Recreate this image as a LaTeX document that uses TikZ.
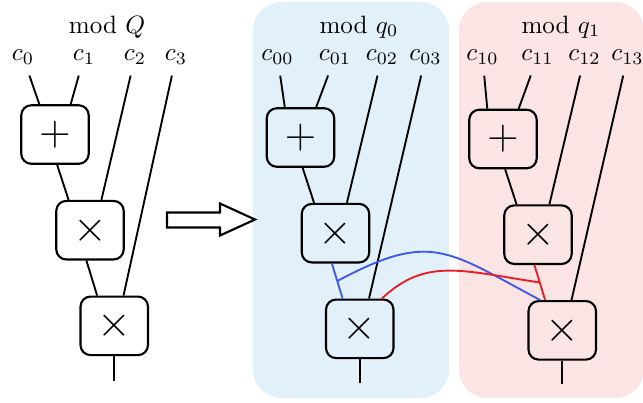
\documentclass[tikz,border=0pt]{standalone}
\usetikzlibrary{positioning}
\definecolor{panelblue}{RGB}{226,240,250}
\definecolor{panelred}{RGB}{250,228,228}
\definecolor{wireblue}{RGB}{64,90,232}
\definecolor{wirered}{RGB}{232,30,40}
\tikzset{op/.style={draw, line width=0.85pt, rounded corners=4pt, minimum width=0.945cm, minimum height=0.82cm, inner sep=0pt, font=\LARGE},
  wire/.style={line width=0.75pt},
  lbl/.style={anchor=base},
  panel/.style={rounded corners=0.4cm}}

\begin{document}
\begin{tikzpicture}[x=0.014cm, y=-0.014cm]
    \useasboundingbox (0,0) rectangle (643,402);
    \fill[panelblue, panel] (253,2) rectangle (449,398);
    \fill[panelred, panel] (459,2) rectangle (644,398);

    % mod Q
    \node[lbl] (mQ) at (107,33) {mod $Q$};
    \node[lbl] (c0) at (23,60.5) {$c_0$};
    \node[lbl] (c1) at (84,60.5) {$c_1$};
    \node[lbl] (c2) at (135,60.5) {$c_2$};
    \node[lbl] (c3) at (176,60.5) {$c_3$};
    \node[op] (pQ) at (55,134.5) {$+$};
    \node[op, on grid, below right=1.34cm and 0.49cm of pQ] (xQ) {$\times$};
    \node[op, on grid, below right=1.34cm and 0.34cm of xQ] (yQ) {$\times$};
    \coordinate[below=0.35cm of yQ] (oQ);
    \draw[wire, shorten <=1pt] (c0) -- ([xshift=-0.22cm]pQ.north);
    \draw[wire, shorten <=1pt] (c1) -- ([xshift=0.22cm]pQ.north);
    \draw[wire, shorten <=1pt] (c2) -- ([xshift=0.16cm]xQ.north);
    \draw[wire, shorten <=1pt] (c3) -- ([xshift=0.13cm]yQ.north);
    \draw[wire] ([xshift=0.03cm]pQ.south) -- ([xshift=-0.3cm]xQ.north);
    \draw[wire] ([xshift=-0.05cm]xQ.south) -- ([xshift=-0.24cm]yQ.north);
    \draw[wire] (yQ) -- (oQ);

    % arrow
    \draw[line width=0.85pt] (167,212.5) -- (220,212.5) -- (220,203.5) -- (255,219.5)
      -- (220,235.5) -- (220,227.5) -- (167,227.5) -- cycle;

    % mod q_0
    \node[lbl] (m0) at (359,33) {mod $q_0$};
    \node[lbl] (c00) at (277.5,60.5) {$c_{00}$};
    \node[lbl] (c01) at (335,60.5) {$c_{01}$};
    \node[lbl] (c02) at (382,60.5) {$c_{02}$};
    \node[lbl] (c03) at (425.5,60.5) {$c_{03}$};
    \node[op] (p0) at (300.5,137.5) {$+$};
    \node[op, on grid, below right=1.34cm and 0.49cm of p0] (x0) {$\times$};
    \node[op, on grid, below right=1.34cm and 0.34cm of x0] (y0) {$\times$};
    \coordinate[below=0.33cm of y0] (o0);
    \draw[wire, shorten <=1pt] (c00) -- ([xshift=-0.22cm]p0.north);
    \draw[wire, shorten <=1pt] (c01) -- ([xshift=0.22cm]p0.north);
    \draw[wire, shorten <=1pt] (c02) -- ([xshift=0.16cm]x0.north);
    \draw[wire, shorten <=1pt] (c03) -- ([xshift=0.13cm]y0.north);
    \draw[wire] ([xshift=0.03cm]p0.south) -- ([xshift=-0.3cm]x0.north);
    \draw[wire, wireblue] ([xshift=-0.05cm]x0.south) -- coordinate[midway] (b0) ([xshift=-0.24cm]y0.north);
    \draw[wire] (y0) -- (o0);

    % mod q_1
    \node[lbl] (m1) at (561,33) {mod $q_1$};
    \node[lbl] (c10) at (482.5,60.5) {$c_{10}$};
    \node[lbl] (c11) at (537.5,60.5) {$c_{11}$};
    \node[lbl] (c12) at (584.5,60.5) {$c_{12}$};
    \node[lbl] (c13) at (627.5,60.5) {$c_{13}$};
    \node[op] (p1) at (503,139) {$+$};
    \node[op, on grid, below right=1.34cm and 0.49cm of p1] (x1) {$\times$};
    \node[op, on grid, below right=1.34cm and 0.34cm of x1] (y1) {$\times$};
    \coordinate[below=0.32cm of y1] (o1);
    \draw[wire, shorten <=1pt] (c10) -- ([xshift=-0.22cm]p1.north);
    \draw[wire, shorten <=1pt] (c11) -- ([xshift=0.22cm]p1.north);
    \draw[wire, shorten <=1pt] (c12) -- ([xshift=0.16cm]x1.north);
    \draw[wire, shorten <=1pt] (c13) -- ([xshift=0.13cm]y1.north);
    \draw[wire] ([xshift=0.03cm]p1.south) -- ([xshift=-0.3cm]x1.north);
    \draw[wire, wirered] ([xshift=-0.05cm]x1.south) -- coordinate[midway] (b1) ([xshift=-0.24cm]y1.north);
    \draw[wire] (y1) -- (o1);

    % cross terms
    \draw[wire, wireblue] (b0) .. controls +(94,-50) and +(-94,-50) .. ([xshift=-0.31cm]y1.north);
    \draw[wire, wirered] ([xshift=0.31cm]y0.north) .. controls +(44,-41) and +(-79,-12) .. (b1);
\end{tikzpicture}
\end{document}
